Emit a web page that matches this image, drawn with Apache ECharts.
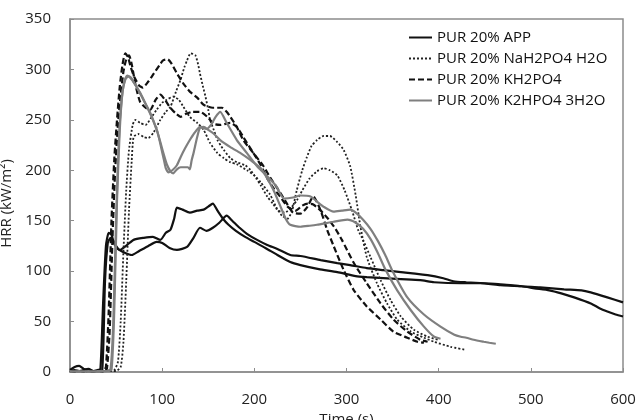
<!DOCTYPE html>
<html>
<head>
<meta charset="utf-8">
<script src="https://cdn.jsdelivr.net/npm/echarts@6/dist/echarts.min.js"></script>
<style>
  html, body { margin: 0; padding: 0; background: #fff; }
  #chart { width: 637px; height: 420px; }
</style>
</head>
<body>
<div id="chart"></div>
<script>
// Heat release rate curves, [time (s), HRR (kW/m²)], two runs per formulation
const names = ['PUR 20% APP', 'PUR 20% NaH2PO4 H2O', 'PUR 20% KH2PO4', 'PUR 20% K2HPO4 3H2O'];
const xTicks = [0, 100, 200, 300, 400, 500, 600];
const yTicks = [0, 50, 100, 150, 200, 250, 300, 350];

const appRun1 = [[0,2],[5,5],[10,6],[15,3],[20,2],[25,1],[30,2],[33,3],[36,70],[39,125],[42,138],[45,136],[48,127],[54,121],[62,126],[69,131],[80,133],[90,134],[98,131],[104,138],[109,141],[113,152],[116,163],[122,161],[130,158],[138,160],[145,161],[150,164],[155,167],[160,160],[166,152],[172,146],[180,140],[190,134],[200,129],[212,123],[225,116],[239,109],[250,106],[270,102],[290,99],[310,95],[322,94],[340,93],[359,92],[380,91],[395,89],[424,88],[445,88],[467,86],[490,85],[504,83],[520,81],[533,78],[547,74],[565,68],[575,63],[583,60],[592,57],[600,55]];
const appRun2 = [[0,1],[5,2],[10,1],[20,3],[25,1],[30,0],[35,2],[38,90],[41,128],[44,133],[47,130],[52,122],[60,118],[67,116],[75,120],[85,125],[94,129],[100,128],[108,123],[116,121],[127,124],[134,133],[141,143],[148,140],[155,143],[162,148],[170,155],[176,150],[184,143],[192,137],[203,131],[214,126],[225,122],[239,116],[250,115],[272,111],[290,108],[304,106],[322,103],[340,101],[359,99],[388,96],[405,93],[416,90],[430,89],[450,88],[467,87],[490,85],[510,84],[536,82],[555,81],[565,79],[583,74],[600,69]];

const naRun1 = [[0,0],[10,1],[20,0],[30,1],[40,1],[48,2],[52,10],[55,50],[58,120],[61,180],[64,220],[68,245],[71,250],[76,247],[82,245],[88,252],[94,260],[100,267],[105,270],[112,273],[118,270],[123,263],[130,253],[138,247],[145,240],[152,227],[160,217],[167,212],[174,208],[181,206],[192,200],[200,195],[207,188],[217,176],[224,163],[230,155],[236,152],[241,160],[246,180],[252,200],[257,213],[262,224],[268,230],[275,234],[282,234],[290,228],[297,220],[304,204],[310,175],[315,145],[322,114],[333,88],[344,68],[355,52],[370,40],[384,34],[395,30],[413,25],[429,22]];
const naRun2 = [[0,1],[10,0],[20,1],[30,0],[40,1],[50,1],[55,5],[58,30],[61,90],[64,160],[67,210],[69,233],[74,236],[80,233],[85,232],[91,238],[98,250],[104,258],[109,263],[115,278],[120,290],[124,302],[127,309],[131,316],[136,314],[139,305],[141,296],[144,284],[147,273],[150,260],[152,250],[156,240],[160,230],[164,224],[167,220],[174,212],[181,208],[190,205],[196,200],[202,192],[207,185],[214,174],[220,167],[226,160],[233,158],[240,163],[246,170],[252,180],[260,192],[268,199],[275,202],[282,200],[290,195],[298,180],[306,160],[313,140],[318,131],[326,114],[337,91],[348,71],[359,55],[373,42],[388,35],[399,32]];

const khRun1 = [[0,0],[10,1],[20,0],[30,1],[36,1],[39,5],[42,60],[45,150],[48,210],[51,250],[54,283],[57,305],[60,316],[63,312],[66,302],[70,292],[75,284],[79,282],[85,288],[91,296],[97,304],[101,309],[106,310],[110,306],[116,296],[123,286],[130,278],[138,272],[145,265],[155,262],[165,262],[170,258],[174,253],[181,243],[188,230],[199,217],[210,204],[217,193],[228,178],[236,166],[242,158],[250,157],[257,163],[264,174],[272,160],[279,141],[286,125],[297,101],[308,81],[322,65],[337,52],[351,40],[366,34],[377,30],[384,29]];
const khRun2 = [[0,1],[10,0],[20,1],[30,0],[37,1],[40,3],[43,40],[46,130],[49,200],[52,245],[55,275],[58,298],[61,310],[64,314],[67,305],[71,285],[76,268],[82,262],[87,260],[93,270],[98,275],[103,270],[108,263],[114,257],[120,253],[126,256],[133,258],[141,258],[149,253],[156,246],[163,245],[174,247],[181,243],[188,233],[199,217],[207,205],[214,192],[221,182],[228,174],[236,164],[245,160],[252,165],[258,167],[264,166],[272,160],[280,152],[288,142],[295,131],[308,108],[322,88],[337,68],[351,52],[366,40],[380,32],[388,30]];

const k2Run1 = [[0,0],[10,1],[20,0],[30,1],[40,1],[44,3],[47,50],[50,150],[53,230],[56,270],[59,288],[62,294],[66,292],[70,286],[76,277],[82,266],[87,257],[94,240],[98,228],[101,218],[105,206],[109,199],[112,197],[116,201],[120,203],[128,203],[130,201],[132,210],[134,217],[138,233],[141,242],[145,243],[150,240],[155,237],[163,230],[174,223],[185,217],[196,210],[207,202],[214,192],[221,180],[228,165],[234,152],[239,146],[250,144],[260,145],[268,146],[286,149],[301,151],[310,148],[318,142],[326,132],[334,118],[342,102],[355,81],[370,61],[384,45],[395,35],[402,33]];
const k2Run2 = [[0,1],[10,0],[20,1],[30,0],[40,1],[45,2],[48,60],[51,170],[54,240],[57,278],[60,290],[63,293],[67,290],[72,283],[78,273],[84,262],[90,250],[95,238],[99,222],[102,210],[104,202],[107,198],[111,200],[116,205],[120,213],[125,222],[130,230],[135,237],[141,243],[148,241],[153,245],[158,253],[163,258],[170,247],[181,230],[192,217],[203,204],[214,194],[224,184],[232,172],[242,173],[250,175],[261,174],[268,169],[275,164],[286,159],[295,160],[304,161],[310,158],[318,151],[326,142],[334,130],[342,116],[350,100],[366,74],[384,57],[402,45],[417,37],[424,35],[430,34],[438,32],[449,30],[455,29],[462,28]];

const FONT = '"Open Sans", "Liberation Sans", sans-serif';

const styles = [
  { color: '#111111', width: 2.2, type: 'solid' },
  { color: '#222222', width: 1.8, type: [2, 2] },
  { color: '#111111', width: 2.2, type: [6, 3] },
  { color: '#7f7f7f', width: 2.2, type: 'solid' }
];

const runs = [
  [appRun1, 0], [appRun2, 0],
  [naRun1, 1], [naRun2, 1],
  [khRun1, 2], [khRun2, 2],
  [k2Run1, 3], [k2Run2, 3]
];

const series = runs.map(([data, k]) => ({
  name: names[k],
  type: 'line',
  data: data,
  symbol: 'none',
  smooth: 0.2,
  color: styles[k].color,
  lineStyle: { color: styles[k].color, width: styles[k].width, type: styles[k].type },
  animation: false
}));

const chart = echarts.init(document.getElementById('chart'), null, { renderer: 'canvas' });
chart.setOption({
  animation: false,
  backgroundColor: '#ffffff',
  textStyle: { fontFamily: FONT },
  grid: {
    left: 70, right: 14, top: 19, bottom: 48,
    outerBoundsMode: 'none',
    containLabel: false,
    show: true, borderColor: '#8c8c8c', borderWidth: 1.5, backgroundColor: 'transparent'
  },
  legend: {
    data: names,
    orient: 'vertical',
    left: 403, top: 25,
    itemWidth: 23, itemHeight: 10,
    itemGap: 6,
    itemStyle: { opacity: 0 },
    textStyle: { fontFamily: FONT, fontSize: 15, color: '#111' }
  },
  xAxis: {
    type: 'value',
    min: 0, max: 600, interval: 100,
    name: 'Time (s)',
    nameLocation: 'middle',
    nameGap: 30,
    nameTextStyle: { fontFamily: FONT, fontSize: 15, color: '#222' },
    axisLine: { lineStyle: { color: '#8c8c8c', width: 1.5 } },
    axisTick: { inside: true, length: 4, lineStyle: { color: '#8c8c8c' } },
    axisLabel: { margin: 20, fontFamily: FONT, fontSize: 15, color: '#222',
      formatter: v => xTicks.includes(v) ? String(v) : '' },
    splitLine: { show: false }
  },
  yAxis: {
    type: 'value',
    min: 0, max: 350, interval: 50,
    name: 'HRR (kW/m²)',
    nameLocation: 'middle',
    nameGap: 42,
    nameTextStyle: { fontFamily: FONT, fontSize: 15, color: '#222', padding: [0, 0, 0, -16] },
    axisLine: { show: true, lineStyle: { color: '#8c8c8c', width: 1.5 } },
    axisTick: { show: true, inside: true, length: 4, lineStyle: { color: '#8c8c8c' } },
    axisLabel: { margin: 19, fontFamily: FONT, fontSize: 15, color: '#222',
      formatter: v => yTicks.includes(v) ? String(v) : '' },
    splitLine: { show: false }
  },
  series: series
});
</script>
</body>
</html>
